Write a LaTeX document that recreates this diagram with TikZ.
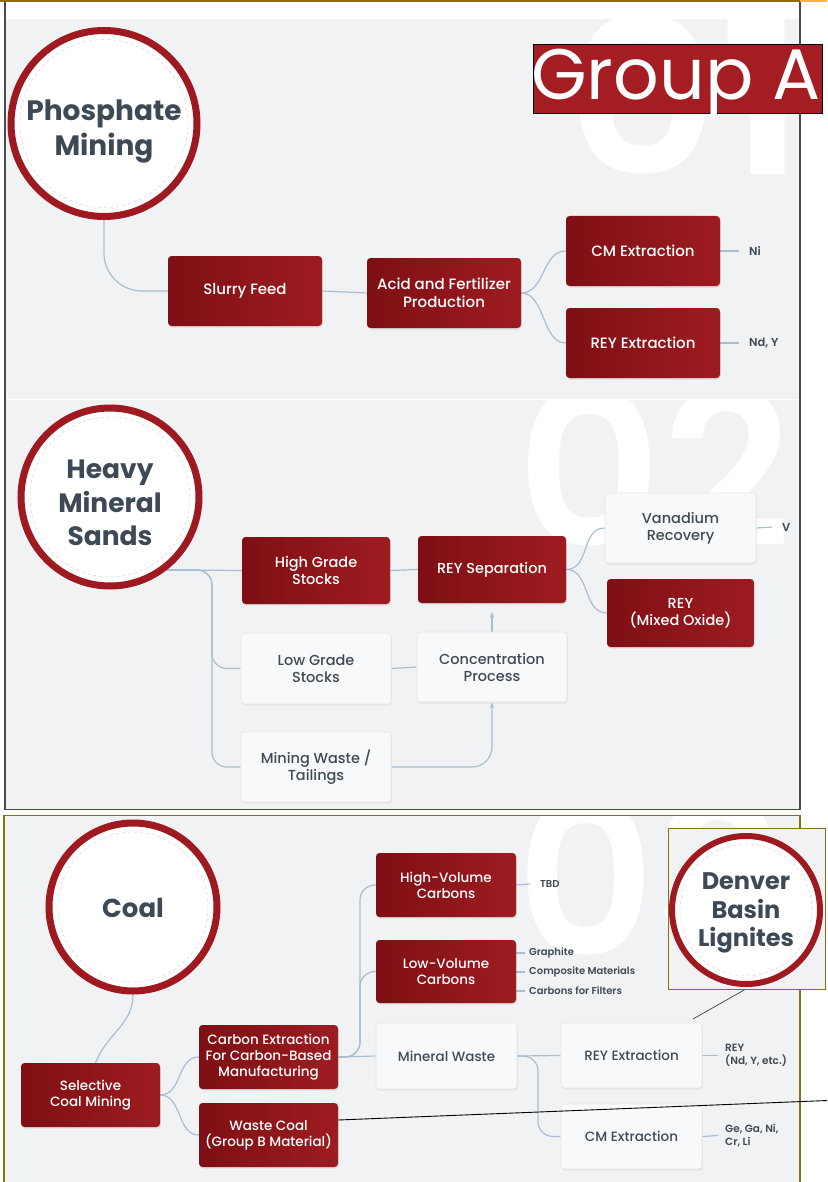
\documentclass[tikz,border=0pt]{standalone}
\usepackage{fontspec}
\setmainfont{Poppins}
\newfontfamily\fmed{Poppins Medium}
\newfontfamily\fsemi{Poppins SemiBold}
\newfontfamily\fbold{Poppins Bold}
\newfontfamily\freg{Poppins}
\usetikzlibrary{shadows,arrows.meta,calc}
\definecolor{rdark}{HTML}{7E0F14}
\definecolor{rlight}{HTML}{9E1C21}
\definecolor{ringred}{HTML}{9E1A20}
\definecolor{bgg}{HTML}{F1F2F4}
\definecolor{conncol}{HTML}{A9BED1}
\definecolor{txt}{HTML}{3F4A54}
\definecolor{titlecol}{HTML}{3D4954}
\definecolor{gold}{HTML}{8C6B14}
\definecolor{framecol}{HTML}{4A4A4A}
\definecolor{wbox}{HTML}{F8F9FA}
\definecolor{wedge}{HTML}{E3E6E9}
\definecolor{grp}{HTML}{A31D22}
\definecolor{topyel}{HTML}{F5B82E}
\pgfdeclarelayer{back}\pgfdeclarelayer{mid}\pgfsetlayers{back,mid,main}
\begin{document}
\begin{tikzpicture}[x=1pt,y=-1pt,
 redbox/.style={rounded corners=3.5pt, left color=rdark, right color=rlight, text=white, align=center, inner sep=0pt, drop shadow={opacity=0.18,shadow xshift=0.8pt,shadow yshift=-1.6pt}},
 whitebox/.style={rounded corners=3.5pt, fill=wbox, draw=wedge, line width=0.6pt, text=txt, align=center, inner sep=0pt, drop shadow={opacity=0.12,shadow xshift=0.8pt,shadow yshift=-1.6pt}},
 fa/.style={font=\fmed\fontsize{15}{18}\selectfont},
 fb/.style={font=\fmed\fontsize{14.5}{17}\selectfont},
 fc/.style={font=\fmed\fontsize{13.5}{16}\selectfont},
 circ/.style={circle, draw=ringred, line width=7pt, fill=white, inner sep=0pt},
 ctitle/.style={text=titlecol, align=center, inner sep=0pt},
 innerdash/.style={draw=red!15!gray!30, dashed, line width=0.5pt},
 cn/.style={draw=conncol, line width=1.2pt},
 lbl/.style={text=txt, font=\fsemi\fontsize{10}{12.8}\selectfont, anchor=west, inner sep=0pt, align=left},
 lblb/.style={lbl, font=\fsemi\fontsize{11.5}{13.5}\selectfont},
 lblc/.style={lbl, font=\fsemi\fontsize{10.5}{13}\selectfont},
 bignum/.style={text=white, font=\fsemi\fontsize{215}{215}\selectfont, inner sep=0pt, transform shape},
]
\useasboundingbox (0,0) rectangle (827,1182);
\begin{pgfonlayer}{back}
\fill[white] (0,0) rectangle (827,1182);
\fill[bgg] (5,19) rectangle (800,809);
\fill[bgg] (4,815) rectangle (800,1183);
\begin{scope}
\clip (5,19) rectangle (800,399);
\node[bignum, anchor=south west, xscale=1.1] (n01) at (566,175) {01};
\end{scope}
\begin{scope}
\clip (5,400) rectangle (800,809);
\node[bignum, anchor=south west, xscale=1.05] (n02) at (516,547) {02};
\end{scope}
\begin{scope}
\clip (4,816) rectangle (800,1182);
\node[bignum, anchor=south west] (n03) at (516,957) {03};
\end{scope}
\draw[white, line width=1pt] (5,399.5) -- (800,399.5);
\end{pgfonlayer}

% frames
\draw[framecol, line width=1.5pt] (5,2) -- (5,809.5) -- (800,809.5) -- (800,2);
\draw[gold, line width=1.6pt] (0,0.8) -- (800,0.8);
\draw[topyel, line width=1.6pt] (800,0.8) -- (827,0.8);
\draw[gold, line width=1.2pt] (4,1183) -- (4,815.6) -- (800,815.6) -- (800,1183);

% ---------- Section 1 ----------
\node[circ, minimum size=186pt] (phos) at (104,123.5) {};
\draw[innerdash] (phos.center) circle[radius=84pt];
\node[ctitle, font=\fbold\fontsize{28}{35}\selectfont] (phost) at (104,131) {Phosphate\\Mining};
\node[redbox, fa, minimum width=154pt, minimum height=70pt] (sf) at (245,291) {Slurry Feed};
\node[redbox, fa, minimum width=154pt, minimum height=70pt] (afp) at (444,293) {Acid and Fertilizer\\Production};
\node[redbox, fa, minimum width=154pt, minimum height=70pt] (cm1) at (643,251) {CM Extraction};
\node[redbox, fa, minimum width=154pt, minimum height=70pt] (rey1) at (643,343) {REY Extraction};
\node[lblb] (ni) at (749,251) {Ni};
\node[lblb] (ndy) at (749,343) {Nd, Y};

\node[fill=grp, draw=black, line width=1pt, minimum width=289pt, minimum height=69pt, inner sep=0pt] (grpbox) at (677.5,79.5) {};
\node[text=white, font=\freg\fontsize{71.5}{72}\selectfont, anchor=base, inner sep=0pt] (grptext) at (676,100) {Group A};

% ---------- Section 2 ----------
\node[circ, minimum size=178pt] (hms) at (110,497) {};
\draw[innerdash] (hms.center) circle[radius=80pt];
\node[ctitle, font=\fbold\fontsize{26.5}{33.5}\selectfont] (hmst) at (110,503) {Heavy\\Mineral\\Sands};
\node[redbox, fb, minimum width=148pt, minimum height=67pt] (hg) at (316,570.5) {High Grade\\Stocks};
\node[whitebox, fb, minimum width=150pt, minimum height=71pt] (lg) at (316,668.5) {Low Grade\\Stocks};
\node[whitebox, fb, minimum width=150pt, minimum height=70pt] (mw) at (316,767) {Mining Waste /\\Tailings};
\node[redbox, fb, minimum width=148pt, minimum height=67pt] (rs) at (492,569.5) {REY Separation};
\node[whitebox, fb, minimum width=150pt, minimum height=70pt] (cp) at (492,667) {Concentration\\Process};
\node[whitebox, fb, minimum width=151pt, minimum height=70pt] (vr) at (680.5,528) {Vanadium\\Recovery};
\node[redbox, fb, minimum width=147pt, minimum height=68pt] (rm) at (680.5,613) {REY\\(Mixed Oxide)};
\node[lblb] (vl) at (782,527) {V};

% ---------- Section 3 ----------
\node[circ, minimum size=168pt] (coal) at (133,907) {};
\draw[innerdash] (coal.center) circle[radius=75pt];
\node[ctitle, font=\fbold\fontsize{26}{32}\selectfont] (coalt) at (133,908) {Coal};
\node[redbox, fc, minimum width=139pt, minimum height=64pt] (scm) at (90.5,1095) {Selective\\Coal Mining};
\node[redbox, fc, minimum width=139pt, minimum height=64pt] (ce) at (268.5,1057) {Carbon Extraction\\For Carbon-Based\\Manufacturing};
\node[redbox, fc, minimum width=139pt, minimum height=64pt] (wc) at (268.5,1135) {Waste Coal\\(Group B Material)};
\node[redbox, fc, minimum width=140pt, minimum height=64pt] (hv) at (446,885) {High-Volume\\Carbons};
\node[redbox, fc, minimum width=140pt, minimum height=63pt] (lv) at (446,971.5) {Low-Volume\\Carbons};
\node[whitebox, fc, minimum width=141pt, minimum height=66pt] (mw2) at (446.5,1056) {Mineral Waste};
\node[whitebox, fc, minimum width=141pt, minimum height=65pt] (re2) at (631.5,1055.5) {REY Extraction};
\node[whitebox, fc, minimum width=141pt, minimum height=65pt] (cm2) at (631.5,1136.5) {CM Extraction};
\node[lbl] (tbd) at (540,884) {TBD};
\node[lbl] (gr) at (529,953) {Graphite};
\node[lbl] (cmat) at (529,972) {Composite Materials};
\node[lbl] (cf) at (529,991) {Carbons for Filters};
\node[lblc] (reyl) at (725,1055.5) {REY\\(Nd, Y, etc.)};
\node[lblc] (gel) at (725,1135.5) {Ge, Ga, Ni,\\Cr, Li};

\node[draw=gold, fill=bgg, line width=1pt, minimum width=157pt, minimum height=161pt, inner sep=0pt] (denbox) at (746.5,908.5) {};
\node[circ, line width=6pt, minimum size=148pt] (den) at (746,910) {};
\draw[innerdash] (den.center) circle[radius=66pt];
\node[ctitle, font=\fbold\fontsize{24}{28.5}\selectfont] (dent) at (746,913) {Denver\\Basin\\Lignites};

\coordinate (dn) at (693,1019);
\coordinate (rend) at (827,1100.5);

% ---------- connectors ----------
\begin{pgfonlayer}{mid}
\draw[cn, rounded corners=38pt] (phos.south) |- (sf.west);
\draw[cn] (sf.east) -- (afp.west);
\draw[cn] (afp.east) .. controls +(24,0) and +(-24,0) .. (cm1.west);
\draw[cn] (afp.east) .. controls +(24,0) and +(-24,0) .. (rey1.west);
\draw[cn] (cm1.east) -- ($(ni.west)+(-10,0)$);
\draw[cn] (rey1.east) -- ($(ndy.west)+(-10,0)$);

\coordinate (hs) at (hms.-52);
\draw[cn] (hs) -- (hg.west);
\draw[cn, rounded corners=15pt] (hs) -- (212,570) |- (lg.west);
\draw[cn, rounded corners=15pt] (hs) -- (212,570) |- (mw.west);
\draw[cn] (hg.east) -- (rs.west);
\draw[cn] (lg.east) -- (cp.west);
\draw[cn, rounded corners=20pt, -{Stealth[length=6pt,width=4.5pt]}] (mw.east) -| (cp.south);
\draw[cn, -{Stealth[length=6pt,width=4.5pt]}] (cp.north) -- ($(rs.south)+(0,9)$);
\draw[cn] (rs.east) .. controls +(24,0) and +(-24,0) .. (vr.west);
\draw[cn] (rs.east) .. controls +(24,0) and +(-24,0) .. (rm.west);
\draw[cn] (vr.east) -- ($(vl.west)+(-10,0)$);

\draw[cn] (coal.south) .. controls +(0,30) and +(12,-30) .. ($(scm.north)+(5,0)$);
\draw[cn] (scm.east) .. controls +(22,0) and +(-22,0) .. (ce.west);
\draw[cn] (scm.east) .. controls +(22,0) and +(-22,0) .. (wc.west);
\draw[cn] (ce.east) -- (mw2.west);
\draw[cn, rounded corners=15pt] (ce.east) -- (360,1057) |- (hv.west);
\draw[cn, rounded corners=15pt] (ce.east) -- (360,1057) |- (lv.west);
\draw[cn] (hv.east) -- ($(tbd.west)+(-10,0)$);
\draw[cn] (gr.west -| lv.east) -- ($(gr.west)+(-4,0)$);
\draw[cn] (cmat.west -| lv.east) -- ($(cmat.west)+(-4,0)$);
\draw[cn] (cf.west -| lv.east) -- ($(cf.west)+(-4,0)$);
\draw[cn] (mw2.east) -- (re2.west);
\draw[cn, rounded corners=15pt] (mw2.east) -- (538,1056) |- (cm2.west);
\draw[cn] (re2.east) -- ($(reyl.west)+(-7,0)$);
\draw[cn] (cm2.east) -- ($(gel.west)+(-7,0)$);
\end{pgfonlayer}

\draw[black!75, line width=0.7pt] ($(denbox.south)+(-1.5,0)$) -- (dn);
\draw[black, line width=0.9pt] ($(wc.east)+(0,-15)$) -- (rend);
\end{tikzpicture}
\end{document}
